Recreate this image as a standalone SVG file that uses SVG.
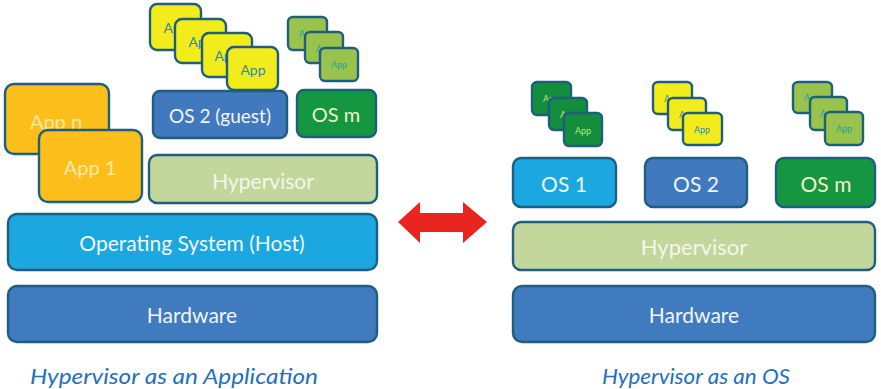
<svg xmlns="http://www.w3.org/2000/svg" width="881" height="389" viewBox="0 0 881 389">
<style>
text{font-family:Lato,"Open Sans","Liberation Sans",sans-serif;text-anchor:middle;dominant-baseline:central}
.b{stroke:#1E5E7E;stroke-width:2.4}
.hw{fill:#3F7BBE}
.host{fill:#1BA8E0}
.hyp{fill:#C3D69B}
.org{fill:#FCBE1B}
.blu{fill:#4079BE}
.grn{fill:#159640}
.yel{fill:#F3EC1B}
.lg{fill:#9AC34D}
.dg{fill:#148D3C}
.wt{fill:#F2F6FB}
.cap{fill:#2270C0;font-style:italic;font-size:21px}
</style>
<g id="left-hardware"><rect class="b hw" x="8" y="286" width="369" height="56" rx="9"/><text class="wt" x="192" y="314" font-size="21">Hardware</text></g>
<g id="left-host"><rect class="b host" x="8" y="214" width="369" height="56" rx="9"/><text class="wt" x="192" y="242" font-size="21">Operating System (Host)</text></g>
<g id="left-hypervisor"><rect class="b hyp" x="149" y="155" width="228" height="48" rx="8"/><text fill="#F4F6EA" x="263" y="180" font-size="21">Hypervisor</text></g>
<g id="app-n"><rect class="b org" x="5" y="84" width="104" height="70" rx="9"/><text fill="#FDE9A8" x="56" y="121" font-size="20">App n</text></g>
<g id="app-1"><rect class="b org" x="39" y="130" width="103" height="72" rx="9"/><text fill="#FDE9A8" x="90" y="167" font-size="20">App 1</text></g>
<g id="os2-guest"><rect class="b blu" x="153" y="91" width="134" height="47" rx="7"/><text class="wt" x="220" y="115" font-size="19">OS 2 (guest)</text></g>
<g id="osm-left"><rect class="b grn" x="297" y="90" width="79" height="47" rx="7"/><text fill="#F0F5C8" x="336" y="114" font-size="20">OS m</text></g>
<g id="yellow-apps-left" font-size="14">
<rect class="b yel" x="150" y="4" width="51" height="46" rx="7"/><text fill="#2A8FA0" x="176" y="27">App</text>
<rect class="b yel" x="175" y="19" width="51" height="44" rx="7"/><text fill="#2A8FA0" x="201" y="41">App</text>
<rect class="b yel" x="202" y="33" width="50" height="44" rx="7"/><text fill="#2A8FA0" x="227" y="55">App</text>
<rect class="b yel" x="227" y="47" width="51" height="43" rx="7"/><text fill="#2A8FA0" x="253" y="69">App</text>
</g>
<g id="green-apps-left" font-size="9">
<rect class="b lg" x="288" y="17" width="39" height="33" rx="5"/><text fill="#2AA0A8" x="307" y="33">App</text>
<rect class="b lg" x="305" y="32" width="38" height="31" rx="5"/><text fill="#2AA0A8" x="324" y="48">App</text>
<rect class="b lg" x="320" y="48" width="38" height="33" rx="5"/><text fill="#2AA0A8" x="339" y="64">App</text>
</g>
<g id="connectors">
<path d="M398 222 L420 202 L420 213 L463 213 L463 202 L487 222 L463 243 L463 232 L420 232 L420 243 Z" fill="#E8261F"/>
</g>
<g id="right-hardware"><rect class="b hw" x="513" y="286" width="362" height="56" rx="9"/><text class="wt" x="694" y="314" font-size="21">Hardware</text></g>
<g id="right-hypervisor"><rect class="b hyp" x="513" y="222" width="362" height="48" rx="8"/><text fill="#F4F6EA" x="694" y="246" font-size="22">Hypervisor</text></g>
<g id="os1"><rect class="b host" x="513" y="158" width="103" height="49" rx="8"/><text class="wt" x="564" y="183" font-size="21">OS 1</text></g>
<g id="os2"><rect class="b blu" x="645" y="158" width="102" height="49" rx="8"/><text class="wt" x="696" y="183" font-size="21">OS 2</text></g>
<g id="osm-right"><rect class="b grn" x="776" y="158" width="99" height="49" rx="8"/><text fill="#F0F5C8" x="826" y="183" font-size="21">OS m</text></g>
<g id="apps-os1" font-size="9">
<rect class="b dg" x="532" y="82" width="39" height="33" rx="5"/><text fill="#C9E27E" x="551" y="98">App</text>
<rect class="b dg" x="549" y="98" width="38" height="32" rx="5"/><text fill="#C9E27E" x="568" y="114">App</text>
<rect class="b dg" x="564" y="113" width="38" height="33" rx="5"/><text fill="#C9E27E" x="583" y="130">App</text>
</g>
<g id="apps-os2" font-size="9">
<rect class="b yel" x="653" y="82" width="39" height="32" rx="5"/><text fill="#2A8FA0" x="672" y="98">App</text>
<rect class="b yel" x="668" y="98" width="38" height="32" rx="5"/><text fill="#2A8FA0" x="687" y="114">App</text>
<rect class="b yel" x="683" y="113" width="39" height="32" rx="5"/><text fill="#2A8FA0" x="702" y="129">App</text>
</g>
<g id="apps-osm" font-size="9">
<rect class="b lg" x="793" y="82" width="39" height="31" rx="5"/><text fill="#2AA0A8" x="812" y="97">App</text>
<rect class="b lg" x="810" y="97" width="37" height="33" rx="5"/><text fill="#2AA0A8" x="828" y="113">App</text>
<rect class="b lg" x="825" y="112" width="38" height="33" rx="5"/><text fill="#2AA0A8" x="844" y="128">App</text>
</g>
<text class="cap" x="174" y="375" textLength="288" lengthAdjust="spacingAndGlyphs">Hypervisor as an Application</text>
<text class="cap" x="696" y="375" textLength="188" lengthAdjust="spacingAndGlyphs">Hypervisor as an OS</text>
</svg>
